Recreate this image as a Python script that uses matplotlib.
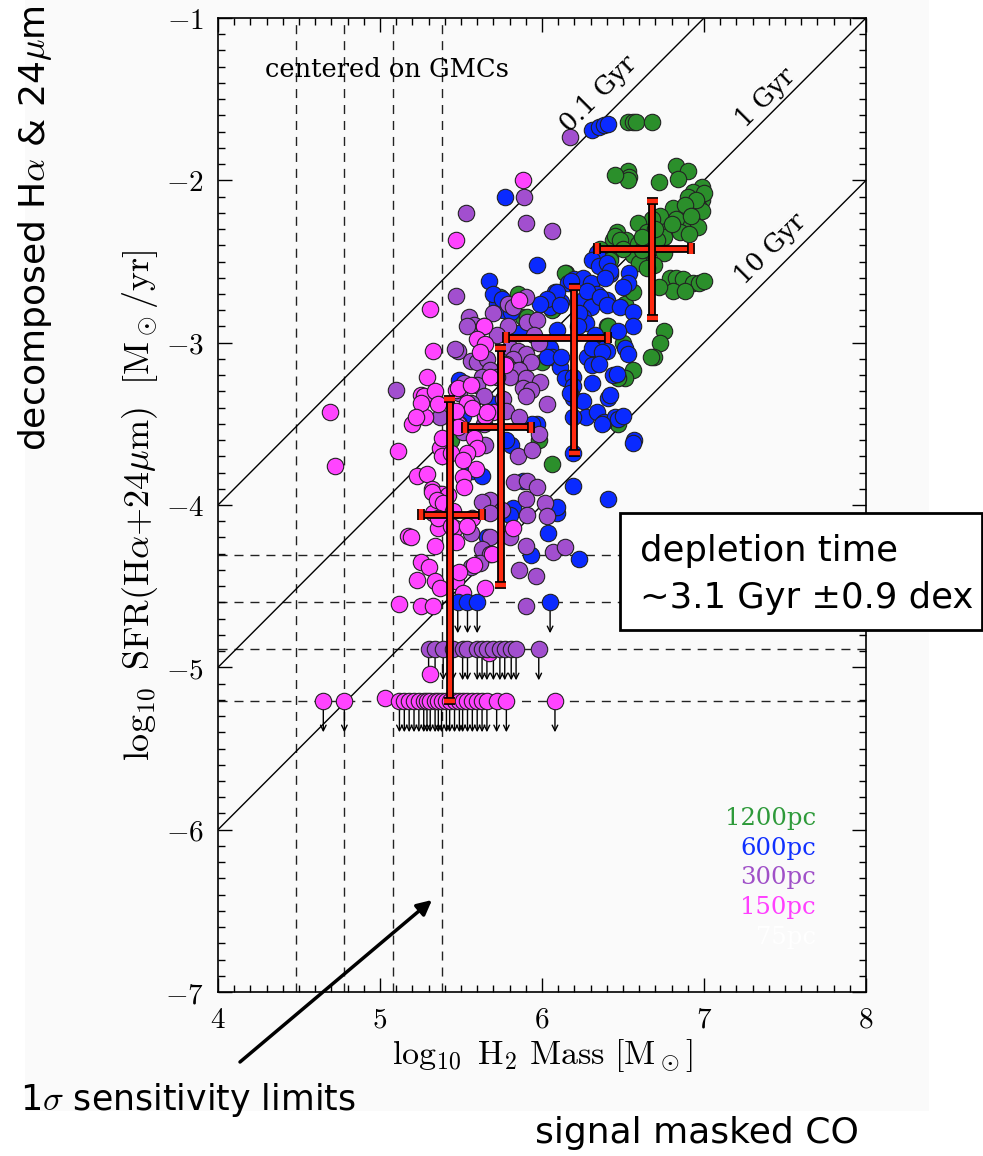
import numpy as np
import matplotlib
matplotlib.use("Agg")
import matplotlib.pyplot as plt
from matplotlib.patches import Rectangle
import matplotlib.patheffects as pe

plt.rcParams['mathtext.fontset'] = 'cm'

# ---------------- data ----------------
green = [(6.53,-1.64),(6.56,-1.64),(6.58,-1.64),(6.68,-1.64),
 (6.53,-1.94),(6.54,-1.98),(6.53,-2.0),(6.45,-1.97),
 (6.83,-1.91),(6.9,-1.94),(6.84,-1.99),(6.72,-2.01),
 (6.99,-2.04),(6.93,-2.07),(6.9,-2.1),(6.99,-2.12),(6.96,-2.16),(6.99,-2.19),(6.9,-2.2),(6.93,-2.26),
 (6.87,-2.29),(6.96,-2.29),(6.81,-2.17),(6.83,-2.24),(6.77,-2.29),(6.85,-2.32),(6.91,-2.33),(6.73,-2.22),
 (6.75,-2.35),(6.68,-2.24),(6.59,-2.26),(6.65,-2.32),(6.71,-2.37),(6.46,-2.32),(6.44,-2.37),(6.52,-2.37),
 (6.59,-2.39),(6.56,-2.46),(6.65,-2.47),(6.75,-2.45),(6.61,-2.51),(6.69,-2.52),(6.42,-2.47),(6.36,-2.42),
 (6.79,-2.60),(6.83,-2.60),(6.87,-2.61),(6.93,-2.63),(6.97,-2.63),(7.0,-2.62),(6.81,-2.68),(6.88,-2.68),(6.72,-2.66),
 (6.75,-2.93),(6.73,-3.0),(6.69,-3.09),
 (6.56,-3.17),(6.51,-3.22),(6.45,-2.34),(6.48,-2.37),(6.42,-2.49),(6.6,-2.51),(6.65,-2.54),(6.15,-2.57),
 (6.4,-2.9),(6.5,-3.0),(6.47,-3.22),(6.51,-2.76),(6.56,-2.69),(6.07,-2.79),(6.31,-3.09),
 (5.74,-2.72),(5.85,-2.7),(6.14,-2.57),(5.9,-2.86),(6.06,-2.8),(6.41,-2.9),(6.0,-3.12),(6.25,-2.76),(6.3,-3.09),
 (5.88,-2.84),(5.91,-2.84),(5.44,-3.6),(5.98,-3.6),(6.06,-3.75),(6.67,-3.09),(6.47,-3.5),
 (7.0,-2.08),(6.95,-2.12),(6.88,-2.15),(6.92,-2.22),(6.8,-2.27),(6.7,-2.3),(6.62,-2.43),(6.5,-2.42),(6.62,-2.35)]

blue = [(6.31,-1.69),(6.35,-1.67),(6.38,-1.66),(6.41,-1.65),(5.77,-2.1),(5.97,-2.52),(5.67,-2.62),
 (5.72,-2.76),(5.76,-2.8),(5.81,-2.81),(5.79,-2.93),(5.86,-2.94),(6.02,-2.75),(6.05,-2.78),(6.08,-2.69),
 (6.12,-2.75),(6.16,-2.63),(6.2,-2.61),(6.25,-2.6),(6.3,-2.63),(6.34,-2.7),(6.4,-2.74),(6.42,-2.58),
 (6.25,-2.74),(6.3,-2.78),(6.25,-2.84),(6.27,-2.88),(6.09,-2.92),(6.05,-3.03),(6.06,-3.09),(6.11,-3.15),
 (6.14,-3.22),(6.19,-3.21),(6.28,-3.09),(6.34,-3.11),(6.37,-3.02),(6.33,-2.95),(6.4,-3.05),(6.44,-3.2),
 (6.31,-3.25),(6.19,-3.34),(6.25,-3.36),(6.41,-3.34),(6.27,-3.46),(6.34,-3.43),(6.38,-3.49),(6.45,-3.46),
 (6.19,-3.46),(5.97,-3.5),(5.49,-3.23),(5.49,-3.43),(5.68,-3.4),
 (6.34,-2.45),(6.31,-2.49),(6.35,-2.53),(6.4,-2.51),(6.42,-2.56),(6.39,-2.6),(6.54,-2.57),(6.53,-2.63),
 (6.5,-2.66),(6.18,-2.62),(6.09,-2.69),(6.03,-2.73),(5.99,-2.76),(6.11,-2.77),(6.28,-2.68),(6.36,-2.72),
 (6.4,-2.77),(6.23,-2.82),(6.22,-2.9),(6.48,-2.78),(6.56,-2.81),(6.56,-2.9),(6.47,-2.93),(6.51,-3.03),
 (6.53,-3.07),(6.03,-3.09),(6.12,-3.09),(6.31,-3.03),(6.37,-3.06),(6.31,-3.14),(6.35,-3.13),(6.46,-3.19),
 (6.19,-3.27),(6.42,-3.32),(6.17,-3.31),
 (6.37,-3.5),(6.47,-3.47),(6.5,-3.45),(6.57,-3.6),(6.56,-3.62),(6.19,-3.68),(6.19,-3.88),(6.41,-3.96),
 (6.09,-4.05),(6.06,-4.02),(6.04,-4.17),(5.94,-3.5),(5.88,-3.85),
 (5.51,-3.45),(5.69,-3.38),(5.81,-3.63),(5.78,-3.6),(5.57,-3.79),(5.63,-3.82),(5.82,-4.02),(5.8,-4.06),
 (6.09,-4.01),(5.66,-4.2),(5.93,-4.31),(6.23,-4.33),(5.7,-3.38),(5.7,-2.7),(5.75,-2.73)]

purple = [(6.17,-1.73),(5.89,-2.1),(5.53,-2.2),(5.9,-2.26),(5.47,-2.71),(6.06,-2.31),(5.55,-2.84),(5.58,-2.89),
 (5.79,-2.76),(5.9,-2.72),(5.91,-2.87),(5.97,-2.86),(5.79,-2.9),(5.82,-2.78),(5.54,-2.9),(5.64,-2.9),
 (5.48,-3.05),(5.56,-3.11),(5.6,-3.12),(5.66,-3.1),(5.68,-3.17),(5.63,-3.21),(5.6,-3.26),(5.64,-3.33),
 (5.56,-3.37),(5.49,-3.31),(5.52,-3.25),(5.8,-3.03),(5.85,-3.05),(5.9,-3.07),(5.93,-3.12),(5.82,-3.1),
 (5.78,-3.13),(5.82,-3.17),(5.86,-3.17),(5.8,-3.21),(5.9,-3.22),(5.99,-3.24),(5.88,-3.28),(5.93,-3.29),
 (5.9,-3.33),(6.03,-3.38),(5.76,-3.35),(5.72,-3.21),(5.78,-3.42),(5.86,-3.46),(5.98,-3.56),(5.64,-3.5),
 (5.49,-3.5),(5.51,-3.55),
 (5.37,-3.46),(5.6,-3.62),(5.65,-3.63),(5.85,-3.7),(5.94,-3.66),(5.83,-3.86),(5.91,-3.85),(5.97,-3.89),
 (5.9,-3.96),(5.68,-3.97),(5.63,-3.98),(5.75,-4.03),(5.68,-4.05),(5.91,-4.06),(6.02,-3.99),(6.03,-4.07),
 (5.56,-4.17),(5.68,-4.2),(5.63,-4.27),(5.68,-4.3),(5.8,-4.2),(5.9,-4.25),(6.07,-4.29),(5.62,-4.36),
 (5.56,-4.38),(5.37,-3.93),(5.41,-4.09),
 (5.1,-3.29),(5.46,-3.04),(6.14,-4.26),(5.96,-4.44),(5.86,-4.4),(5.9,-4.62),
 (5.7,-2.82),(5.72,-2.95),(5.95,-2.95),(5.98,-3.0)]

magenta = [(5.88,-2.0),(5.47,-2.37),(5.31,-2.79),(5.86,-2.74),(5.64,-2.9),
 (4.69,-3.43),(4.72,-3.76),(5.33,-3.05),(5.29,-3.21),(5.25,-3.32),(5.27,-3.33),(5.34,-3.3),(5.36,-3.38),
 (5.2,-3.5),(5.28,-3.46),(5.11,-3.67),(5.6,-2.98),(5.65,-3.01),(5.68,-3.21),(5.7,-3.43),(5.65,-3.45),
 (5.47,-3.29),(5.54,-3.37),(5.48,-3.5),(5.58,-3.59),(5.6,-3.65),(5.54,-3.68),(5.37,-3.65),(5.38,-3.7),
 (5.44,-3.68),(5.59,-3.78),(5.51,-3.83),(5.52,-3.89),(5.23,-3.82),(5.29,-3.81),(5.32,-3.9),(5.38,-3.93),
 (5.42,-3.94),(5.37,-3.99),(5.33,-4.05),(5.36,-4.14),(5.17,-4.19),(5.19,-4.2),(5.46,-4.14),(5.34,-4.25),
 (5.25,-4.35),(5.3,-4.38),(5.23,-4.46),(5.34,-4.47),(5.37,-4.51),(5.47,-4.47),(5.51,-4.54),(5.49,-4.41),
 (5.58,-4.37),(5.65,-4.51),(5.69,-4.3),(5.82,-4.14),(5.12,-4.61),(5.25,-4.62),(5.33,-4.62),(5.31,-5.04),
 (5.67,-4.91),(5.25,-3.37),(5.22,-3.46),(5.38,-3.59),(5.51,-3.72),(5.32,-3.92),(5.35,-3.97),(5.39,-3.99),
 (5.45,-4.04),(5.36,-4.08),(5.44,-4.13),(5.57,-4.08),(5.54,-4.13),(5.47,-4.23),
 (5.62,-3.06),(5.77,-3.14),(5.48,-3.28),(5.56,-3.26),(5.57,-3.4),(5.66,-3.43),(5.47,-3.42),(5.48,-3.52),
 (5.03,-5.19)]

# upper limits (x positions) at each resolution's 1-sigma SFR limit
blue_ul_x = [5.48, 5.54, 5.60, 6.05]
blue_ul_y = -4.60
purple_ul_x = [5.30,5.34,5.39,5.45,5.51,5.54,5.60,5.63,5.66,5.70,5.74,5.77,5.81,5.84,5.98]
purple_ul_y = -4.89
magenta_ul_x = [4.65,4.78,5.12,5.15,5.18,5.21,5.24,5.27,5.29,5.31,5.34,5.36,5.38,5.41,5.43,5.46,
                5.49,5.51,5.54,5.57,5.60,5.63,5.66,5.72,5.78,6.08]
magenta_ul_y = -5.21

# sensitivity limits
mass_limits = [4.48, 4.78, 5.08, 5.38]
sfr_limits = [-4.31, -4.60, -4.89, -5.21]

# binned medians with scatter
cx = [5.43, 5.745, 6.20, 6.68]
cy = [-4.06, -3.52, -2.97, -2.42]
x_lo = [5.25, 5.525, 5.78, 6.34]
x_hi = [5.63, 5.93, 6.41, 6.92]
y_lo = [-5.21, -4.49, -3.68, -2.85]
y_hi = [-3.35, -3.035, -2.66, -2.13]

# depletion times (yr)
tdep = [1e8, 1e9, 1e10]
tdep_labels = ['0.1 Gyr', '1 Gyr', '10 Gyr']
tdep_label_pos = [(6.35, -1.47), (7.38, -1.49), (7.41, -2.42)]

res_labels = ['1200pc', '600pc', '300pc', '150pc', '75pc']
res_colors = ['#2e9a3a', '#1030ff', '#a050c8', '#ff40ff', '#ffffff']
pt_colors = ['#2b8f2b', '#0a2aff', '#a24fcf', '#ff44ff']

# ---------------- figure ----------------
W, H = 983, 1156
fig = plt.figure(figsize=(W/100, H/100), dpi=100)
fig.patch.set_facecolor('white')
bg = Rectangle((25/W, 1-1111/H), (929-25)/W, 1111/H, transform=fig.transFigure,
               facecolor='#fafafa', edgecolor='none', zorder=-5)
fig.patches.append(bg)

ax = fig.add_axes([218/W, 1-992/H, 648/W, 974/H])
ax.set_zorder(1)
ax.set_facecolor('#fafafa')
ax.set_xlim(4, 8)
ax.set_ylim(-7, -1)

# dashed sensitivity lines
for m in mass_limits:
    ax.axvline(m, color='#222222', lw=1.0, ls=(0, (6.5, 5)), zorder=1)
for s in sfr_limits:
    ax.axhline(s, color='#222222', lw=1.0, ls=(0, (6.5, 5)), zorder=1)

# depletion time lines
xx = np.array([4.0, 8.0])
for t in tdep:
    ax.plot(xx, xx - np.log10(t), color='black', lw=1.0, zorder=1)
for lab, (lx, ly) in zip(tdep_labels, tdep_label_pos):
    ax.text(lx, ly, lab, rotation=45, rotation_mode='anchor', ha='center', va='center',
            fontsize=18.5, family='DejaVu Serif', zorder=4)

# upper-limit arrows
def arrows(xs, y):
    for x in xs:
        ax.annotate('', xy=(x, y - 0.19), xytext=(x, y),
                    arrowprops=dict(arrowstyle='->', lw=1.0, color='black',
                                    shrinkA=0, shrinkB=0, mutation_scale=10), zorder=2)

arrows(blue_ul_x, blue_ul_y)
arrows(purple_ul_x, purple_ul_y)
arrows(magenta_ul_x, magenta_ul_y)

S = 140
for pts, col in zip([green, blue, purple, magenta], pt_colors):
    a = np.array(pts)
    ax.scatter(a[:, 0], a[:, 1], s=S, c=col, edgecolors='#222222', linewidths=0.8, zorder=3)

ax.scatter(blue_ul_x, [blue_ul_y]*len(blue_ul_x), s=S, c=pt_colors[1], edgecolors='#222222', linewidths=0.8, zorder=3)
ax.scatter(purple_ul_x, [purple_ul_y]*len(purple_ul_x), s=S, c=pt_colors[2], edgecolors='#222222', linewidths=0.8, zorder=3)
ax.scatter(magenta_ul_x, [magenta_ul_y]*len(magenta_ul_x), s=S, c=pt_colors[3], edgecolors='#222222', linewidths=0.8, zorder=3)

# error crosses
cxa, cya = np.array(cx), np.array(cy)
xerr = [cxa - np.array(x_lo), np.array(x_hi) - cxa]
yerr = [cya - np.array(y_lo), np.array(y_hi) - cya]
eb = ax.errorbar(cxa, cya, xerr=xerr, yerr=yerr, fmt='none', ecolor='#ff2a10',
                 elinewidth=3.0, capsize=4, capthick=3.2, zorder=5)
stroke = [pe.Stroke(linewidth=5.6, foreground='black'), pe.Normal()]
for artist in list(eb.lines[1]) + list(eb.lines[2]):
    artist.set_path_effects(stroke)

# resolution legend
for i, (lab, col) in enumerate(zip(res_labels, res_colors)):
    ax.text(7.69, -5.93 - 0.183*i, lab, color=col, ha='right', va='center',
            fontsize=17.5, family='DejaVu Serif', zorder=4)

ax.text(4.29, -1.32, 'centered on GMCs', ha='left', va='center', fontsize=18.5,
        family='DejaVu Serif', zorder=4)

# axes styling
ax.set_xticks([4, 5, 6, 7, 8])
ax.set_xticklabels([r'$%d$' % v for v in [4, 5, 6, 7, 8]])
ax.set_yticks([-7, -6, -5, -4, -3, -2, -1])
ax.set_yticklabels([r'$%d$' % v for v in [-7, -6, -5, -4, -3, -2, -1]])
ax.set_xticks(np.arange(4, 8.001, 0.1), minor=True)
ax.set_yticks(np.arange(-7, -0.999, 0.1), minor=True)
ax.tick_params(which='both', direction='in', top=True, right=True, width=1.0, labelsize=21, pad=10)
ax.tick_params(which='major', length=10)
ax.tick_params(which='minor', length=5)
for sp in ax.spines.values():
    sp.set_linewidth(1.2)

ax.set_xlabel(r'$\log_{10}\ \mathrm{H_2\ Mass\ [M_\odot]}$', fontsize=24.5, labelpad=2)
ax.set_ylabel(r'$\log_{10}\ \mathrm{SFR(H}\alpha\mathrm{+24}\mu\mathrm{m)\ \ [M_\odot/yr]}$', fontsize=26, labelpad=4)

# slide annotations
sans = 'DejaVu Sans'
fig.text(35/W, 1-228/H, r'decomposed H$\alpha$ & 24$\mu$m', rotation=90, ha='center', va='center',
         fontsize=26, family=sans, zorder=12)
box = Rectangle((620/W, 1-630/H), (982-620)/W, (630-513)/H, transform=fig.transFigure,
                facecolor='white', edgecolor='black', lw=2, zorder=10)
fig.patches.append(box)
fig.text(640/W, 1-551/H, 'depletion time', ha='left', va='center', fontsize=25.5, family=sans, zorder=11)
fig.text(640/W, 1-598/H, '~3.1 Gyr \u00b10.9 dex', ha='left', va='center', fontsize=25.5, family=sans, zorder=11)
fig.text(20/W, 1-1100/H, r'1$\sigma$ sensitivity limits', ha='left', va='center', fontsize=25, family=sans, zorder=12)
fig.text(535/W, 1-1133/H, 'signal masked CO', ha='left', va='center', fontsize=26, family=sans, zorder=12)
ax.annotate('', xy=(432/W, 1-900/H), xytext=(240/W, 1-1062/H), xycoords='figure fraction',
            textcoords='figure fraction',
            arrowprops=dict(arrowstyle='-|>', lw=2.5, color='black', mutation_scale=22,
                            shrinkA=0, shrinkB=0), annotation_clip=False, zorder=12)

fig.savefig('out.png', dpi=100, facecolor='white')
